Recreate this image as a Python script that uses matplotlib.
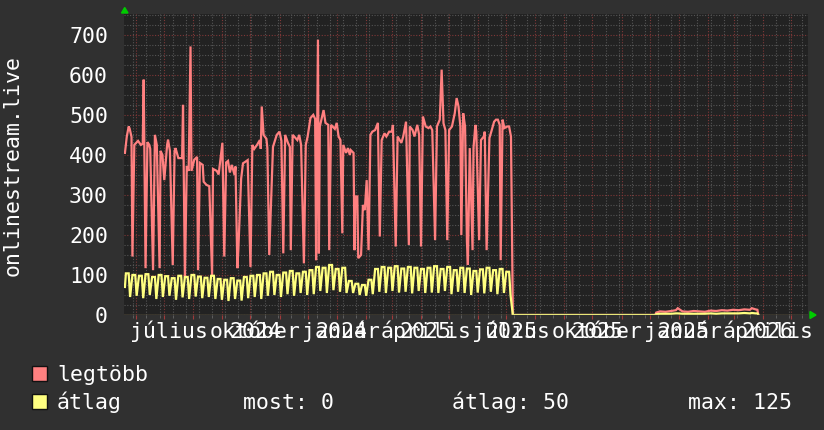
import matplotlib
matplotlib.use('Agg')
import matplotlib.pyplot as plt
import numpy as np
import pandas as pd
import matplotlib.dates as mdates
from matplotlib.patches import Rectangle, Polygon

# time window of the graph
start = pd.Timestamp('2024-05-19')
end = pd.Timestamp('2026-05-19')

# "legtöbb" (max) series: day offset from start, value
red_days = [1, 3, 5, 6, 8, 9, 11, 13, 15, 18,
            20, 21, 23, 25, 27, 28, 31, 33, 35, 38,
            39, 41, 43, 46, 47, 49, 52, 54, 55, 58,
            62, 63, 65, 67, 69, 71, 72, 75, 78, 79,
            81, 84, 85, 88, 91, 94, 95, 99, 101, 102,
            105, 107, 109, 111, 113, 115, 118, 119, 121, 122,
            125, 127, 129, 132, 135, 137, 139, 142, 145, 146,
            147, 149, 152, 153, 155, 159, 163, 166, 168, 170,
            172, 175, 177, 178, 180, 182, 185, 187, 189, 192,
            194, 196, 199, 202, 204, 205, 207, 208, 209, 213,
            215, 218, 219, 221, 225, 227, 229, 231, 233, 234,
            237, 239, 241, 242, 245, 246, 247, 249, 250, 253,
            255, 257, 259, 261, 263, 265, 268, 271, 273, 275,
            278, 280, 283, 286, 287, 290, 292, 296, 298, 301,
            304, 305, 308, 310, 313, 315, 317, 319, 322, 325,
            327, 329, 332, 334, 337, 339, 341, 343, 345, 347,
            350, 353, 355, 357, 359, 360, 362, 364, 366, 367,
            369, 372, 373, 375, 376, 379, 381, 384, 385, 387,
            390, 392, 395, 397, 399, 401, 402, 404, 406, 409,
            411, 413, 415]
red_vals = [405, 446, 471, 466, 445, 146, 425, 430, 435, 425,
            428, 588, 117, 432, 425, 415, 112, 450, 425, 117,
            410, 400, 337, 425, 438, 410, 125, 410, 417, 392,
            392, 525, 92, 372, 360, 671, 360, 388, 395, 112,
            380, 375, 333, 325, 322, 100, 365, 360, 351, 371,
            430, 146, 381, 385, 356, 375, 350, 371, 117, 162,
            340, 379, 382, 387, 120, 425, 415, 425, 437, 415,
            521, 450, 440, 417, 150, 420, 450, 458, 435, 154,
            450, 430, 420, 162, 450, 445, 437, 450, 425, 129,
            425, 446, 492, 500, 490, 137, 688, 154, 471, 512,
            480, 475, 162, 475, 465, 480, 446, 437, 204, 425,
            405, 417, 400, 412, 405, 162, 296, 296, 142, 150,
            275, 262, 337, 162, 450, 458, 462, 480, 196, 437,
            454, 446, 458, 458, 475, 171, 446, 430, 446, 483,
            175, 471, 462, 446, 475, 450, 171, 496, 471, 467,
            471, 462, 187, 471, 488, 613, 479, 462, 187, 462,
            471, 504, 542, 521, 471, 200, 504, 471, 183, 125,
            417, 162, 417, 475, 458, 187, 437, 446, 458, 162,
            442, 458, 483, 488, 488, 475, 137, 488, 467, 471,
            471, 446, 0]

# "átlag" (average) series: weekly high and low levels
yel_hi = [104, 100, 98, 102, 95, 100, 97, 92, 98, 95, 100, 96, 93, 98,
          90, 88, 92, 86, 95, 98, 100,
          104, 108, 100, 106, 110, 104, 108, 112,
          120, 118, 125, 115, 118,
          85, 78, 75, 88,
          115, 120, 118, 122, 116, 120, 118, 115,
          118, 122, 115, 120, 112, 118, 116, 110, 114, 118, 112, 115,
          108]
yel_lo = [45, 48, 42, 50, 40, 45, 48, 38, 44, 40, 46, 42, 45, 40,
          38, 35, 40, 36, 42, 45, 40,
          48, 50, 45, 52, 48, 55, 50, 52,
          60, 55, 62, 58, 55,
          55, 50, 48, 52,
          58, 55, 60, 56, 58, 54, 60, 55,
          56, 55, 60, 52, 58, 55, 50, 56, 54, 58, 52, 55,
          50]

# small values near the end of the window
tail_days = [568, 572, 578, 584, 589, 591, 596, 602, 608, 614, 620,
             626, 632, 638, 644, 650, 656, 662, 668, 670, 674, 676]
tail_red = [6, 9, 8, 10, 12, 17, 9, 8, 10, 9, 8, 11, 10, 12, 11, 13, 12,
            14, 13, 17, 14, 13]
tail_yel = [2, 3, 3, 3, 4, 4, 3, 3, 3, 3, 3, 4, 3, 4, 4, 4, 4, 5, 4, 5, 4, 4]

month_labels = ['július', 'október', 'január', 'április',
                'július', 'október', 'január', 'április']
month_dates = ['2024-07-01', '2024-10-01', '2025-01-01', '2025-04-01',
               '2025-07-01', '2025-10-01', '2026-01-01', '2026-04-01']
year_labels = ['2024', '2024', '2025', '2025', '2025', '2025', '2026']
year_dates = month_dates[1:]

legend_stats = ['most: 0', 'átlag: 50', 'max: 125']

# build full series
yel_days = [1]
yel_vals = [70]
for k, (h, l) in enumerate(zip(yel_hi, yel_lo)):
    yel_days += [7 * k + 2, 7 * k + 5, 7 * k + 6.5]
    yel_vals += [h, h, l]
yel_days += [415, 567] + tail_days + [677]
yel_vals += [0, 0] + tail_yel + [0]

r_days = red_days + [567] + tail_days + [677]
r_vals = red_vals + [0] + tail_red + [0]

to_dates = lambda d: start + pd.to_timedelta(np.array(d, dtype=float), unit='D')

W, H = 824, 430
BG = '#303030'
PLOT_BG = '#222222'
TXT = '#ffffff'
FONT = 'DejaVu Sans Mono'
FS = 15.5
LABEL_SHIFT = pd.Timedelta(days=5)  # labels sit slightly right of the month line

fig = plt.figure(figsize=(W / 100, H / 100), dpi=100, facecolor=BG)
ax = fig.add_axes([124 / W, (H - 315) / H, 684 / W, 301 / H])
ax.set_facecolor(PLOT_BG)

ax.plot(to_dates(r_days), r_vals, color='#ff8080', lw=1.6, zorder=2,
        solid_joinstyle='miter')
ax.plot(to_dates(yel_days), yel_vals, color='#ffff80', lw=1.6, zorder=2.1,
        solid_joinstyle='miter')

ax.set_xlim(start, end)
ax.set_ylim(0, 752)

# grid
ax.set_yticks(range(0, 701, 100))
ax.set_yticks([v for v in range(25, 751, 25) if v % 100], minor=True)
ax.xaxis.set_major_locator(mdates.MonthLocator())
minor_x = [start + pd.Timedelta(days=10 + 14 * k) for k in range(52)]
ax.set_xticks(minor_x, minor=True)
ax.grid(which='minor', color='#555555', linestyle=(0, (1, 1.5)), lw=0.8)
ax.grid(which='major', color='#803838', linestyle=(0, (1, 1.5)), lw=0.8)
ax.set_axisbelow(True)

for s in ax.spines.values():
    s.set_visible(False)

ax.tick_params(axis='x', which='major', length=3, color='#a03a3a',
               labelbottom=False)
ax.tick_params(axis='x', which='minor', length=2, color='#666666')
ax.tick_params(axis='y', which='both', length=0, pad=11.5, labelcolor=TXT,
               labelsize=FS)
for lab in ax.get_yticklabels():
    lab.set_fontfamily(FONT)

# x axis line
ax.axhline(0, color='#8c8058', lw=1, zorder=3)

# month and year labels
tr = ax.get_xaxis_transform()
yb = (315 - 338) / 301
for lab, d in zip(month_labels, month_dates):
    ax.text(pd.Timestamp(d) + LABEL_SHIFT, yb, lab, transform=tr, ha='center',
            va='baseline', color=TXT, fontsize=FS, family=FONT, clip_on=False)
for lab, d in zip(year_labels, year_dates):
    ax.text(pd.Timestamp(d) + LABEL_SHIFT, yb, lab, transform=tr, ha='center',
            va='baseline', color=TXT, fontsize=FS, family=FONT, clip_on=False)

fx = lambda px: px / W
fy = lambda py: 1 - py / H

# green axis arrows
fig.add_artist(Polygon([(fx(121.5), fy(13)), (fx(128), fy(13)), (fx(124.7), fy(7.5))],
                       closed=True, color='#00cc00', transform=fig.transFigure))
fig.add_artist(Polygon([(fx(810), fy(311.5)), (fx(810), fy(318.5)), (fx(816), fy(315))],
                       closed=True, color='#00cc00', transform=fig.transFigure))

# y label
fig.text(fx(13), fy(165), 'onlinestream.live', rotation=90, ha='center',
         va='center', color=TXT, fontsize=FS, family=FONT)

# legend
fig.add_artist(Rectangle((fx(32), fy(381)), 15 / W, 15 / H, facecolor='#ff8080',
                         edgecolor='#111111', lw=1, transform=fig.transFigure))
fig.add_artist(Rectangle((fx(32), fy(409)), 15 / W, 15 / H, facecolor='#ffff80',
                         edgecolor='#111111', lw=1, transform=fig.transFigure))
fig.text(fx(57), fy(381), 'legtöbb', ha='left', va='baseline', color=TXT,
         fontsize=FS, family=FONT)
fig.text(fx(57), fy(409), 'átlag', ha='left', va='baseline', color=TXT,
         fontsize=FS, family=FONT)
for txt, px in zip(legend_stats, [243, 452, 688]):
    fig.text(fx(px), fy(409), txt, ha='left', va='baseline', color=TXT,
             fontsize=FS, family=FONT)

fig.savefig('out.png', dpi=100, facecolor=BG)
